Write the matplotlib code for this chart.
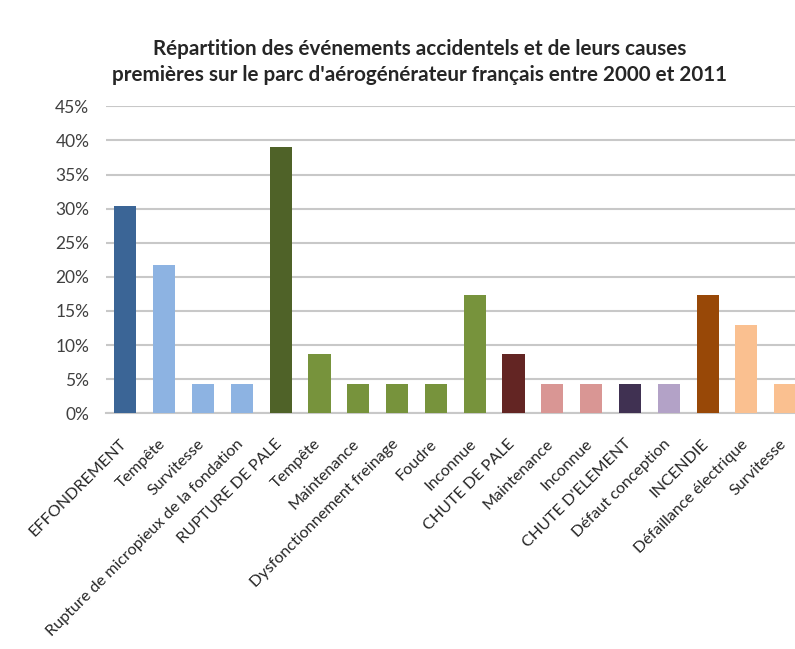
import matplotlib.pyplot as plt
import matplotlib.transforms as mtransforms
import numpy as np

# Data (percent of events)
labels = ['EFFONDREMENT', 'Tempête', 'Survitesse', 'Rupture de micropieux de la fondation',
          'RUPTURE DE PALE', 'Tempête', 'Maintenance', 'Dysfonctionnement freinage', 'Foudre',
          'Inconnue', 'CHUTE DE PALE', 'Maintenance', 'Inconnue', "CHUTE D'ELEMENT",
          'Défaut conception', 'INCENDIE', 'Défaillance électrique', 'Survitesse']
values = [30.4, 21.7, 4.3, 4.3, 39.1, 8.7, 4.3, 4.3, 4.3, 17.4, 8.7, 4.3, 4.3, 4.3, 4.3, 17.4, 13.0, 4.3]
colors = ['#3B6596', '#8DB3E2', '#8DB3E2', '#8DB3E2',
          '#4F6228', '#77933C', '#77933C', '#77933C', '#77933C', '#77933C',
          '#632523', '#D99694', '#D99694',
          '#403152', '#B3A2C7',
          '#984807', '#FAC090', '#FAC090']
yticks = [0, 5, 10, 15, 20, 25, 30, 35, 40, 45]

plt.rcParams['font.family'] = ['Lato', 'DejaVu Sans']

fig = plt.figure(figsize=(7.95, 6.49), dpi=100)
ax = fig.add_axes([0.1333, 0.3632, 0.8788, 0.473])

x = np.arange(len(values))
ax.bar(x, values, width=0.57, color=colors, zorder=3)

ax.set_xlim(-0.5, len(values) - 0.5)
ax.set_ylim(0, 45)
ax.set_yticks(yticks)
ax.set_yticklabels([f'{t}%' for t in yticks], fontsize=12.5, color='#404040')
ax.set_xticks(x)
ax.set_xticklabels(labels, rotation=45, ha='right', va='top', fontsize=11.6, color='#262626')
ax.tick_params(axis='both', length=0)
ax.tick_params(axis='y', pad=12)
ax.tick_params(axis='x', pad=17)

# nudge the rotated labels a little to the right, like the original
shift = mtransforms.ScaledTranslation(0.04, 0, fig.dpi_scale_trans)
for lab in ax.get_xticklabels():
    lab.set_transform(lab.get_transform() + shift)

ax.grid(axis='y', color='#C8C8C8', linewidth=1.5, zorder=0)
for s in ['left', 'right', 'top']:
    ax.spines[s].set_visible(False)
ax.spines['bottom'].set_color('#C8C8C8')
ax.spines['bottom'].set_linewidth(1.5)

fig.text(420 / 795, 1 - 62 / 649,
         "Répartition des événements accidentels et de leurs causes\n"
         "premières sur le parc d'aérogénérateur français entre 2000 et 2011",
         ha='center', va='center', fontsize=14.9, fontweight='bold', color='#262626',
         linespacing=1.4)

fig.savefig('out.png', dpi=100)
